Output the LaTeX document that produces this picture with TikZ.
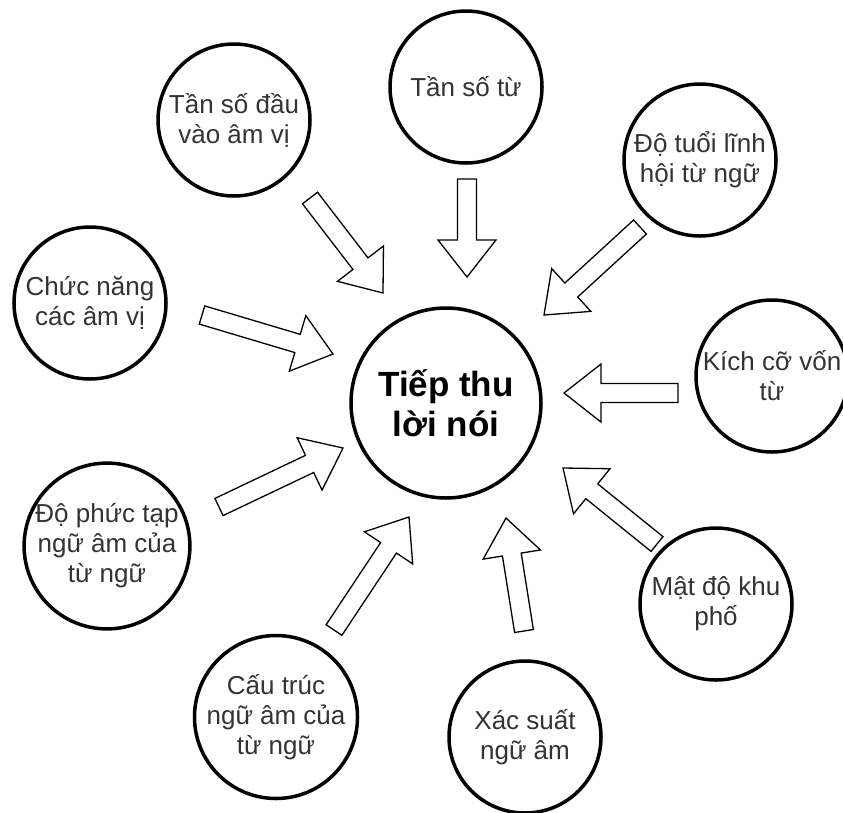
\documentclass[tikz,border=0pt]{standalone}
\usepackage{fontspec}
\setmainfont{Liberation Sans}
\usetikzlibrary{calc}

\tikzset{
  factor/.style={circle, draw, line width=3.5pt, minimum size=152pt, inner sep=0pt,
    align=center, font=\fontsize{26}{30}\selectfont, text=black!80},
  core/.style={circle, draw, line width=3.5pt, minimum size=190pt, inner sep=0pt,
    align=center, font=\fontsize{35}{40}\selectfont\bfseries},
  hollowarrow/.style={draw, line width=1.3pt, line join=miter, fill=white},
}

% Hollow block arrow from the tail coordinate #1 to the tip coordinate #2
\newcommand\blockarrow[2]{%
  \coordinate (#1-base) at ($(#2)!37pt!(#1)$);
  \draw[hollowarrow]
    ($(#1)!9.5pt!90:(#2)$) -- ($(#1-base)!9.5pt!90:(#2)$)
    -- ($(#1-base)!29pt!90:(#2)$) -- (#2)
    -- ($(#1-base)!29pt!-90:(#2)$) -- ($(#1-base)!9.5pt!-90:(#2)$)
    -- ($(#1)!9.5pt!-90:(#2)$) -- cycle;
}

\begin{document}
\begin{tikzpicture}[x=1pt, y=-1pt]
  \path[fill=white, use as bounding box] (0,0) rectangle (843,812);

  % central concept
  \node[core] (core) at (446,403) {Tiếp thu\\lời nói};

  % influencing factors
  \node[factor] (f1) at (234,120) {Tần số đầu\\vào âm vị};
  \node[factor] (f2) at (466,87)  {Tần số từ};
  \node[factor] (f3) at (700,160) {Độ tuổi lĩnh\\hội từ ngữ};
  \node[factor] (f4) at (90,303)  {Chức năng\\các âm vị};
  \node[factor] (f5) at (772,376) {Kích cỡ vốn\\từ};
  \node[factor] (f6) at (107,546) {Độ phức tạp\\ngữ âm của\\từ ngữ};
  \node[factor] (f7) at (716,604) {Mật độ khu\\phố};
  \node[factor] (f8) at (276,717) {Cấu trúc\\ngữ âm của\\từ ngữ};
  \node[factor] (f9) at (525,737) {Xác suất\\ngữ âm};

  % arrow tails and tips
  \coordinate (t1) at (310,198); \coordinate (h1) at (383,293);
  \coordinate (t2) at (467,179); \coordinate (h2) at (467,277);
  \coordinate (t3) at (640,227); \coordinate (h3) at (544,315);
  \coordinate (t4) at (202,315); \coordinate (h4) at (333,354);
  \coordinate (t5) at (678,393); \coordinate (h5) at (564,393);
  \coordinate (t6) at (657,544); \coordinate (h6) at (563,468);
  \coordinate (t7) at (219,507); \coordinate (h7) at (343,448);
  \coordinate (t8) at (334,630); \coordinate (h8) at (409,517);
  \coordinate (t9) at (524,631); \coordinate (h9) at (506,518);

  \blockarrow{t1}{h1}
  \blockarrow{t2}{h2}
  \blockarrow{t3}{h3}
  \blockarrow{t4}{h4}
  \blockarrow{t5}{h5}
  \blockarrow{t6}{h6}
  \blockarrow{t7}{h7}
  \blockarrow{t8}{h8}
  \blockarrow{t9}{h9}
\end{tikzpicture}
\end{document}
